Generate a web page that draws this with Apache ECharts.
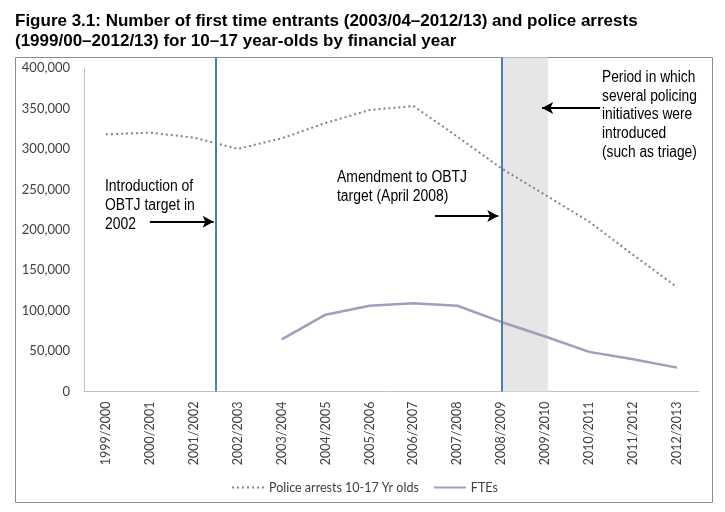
<!DOCTYPE html>
<html><head><meta charset="utf-8">
<script src="https://cdn.jsdelivr.net/npm/echarts@6/dist/echarts.min.js"></script>
<style>html,body{margin:0;padding:0;background:#fff}#c{width:725px;height:512px}</style>
</head><body><div id="c"></div>
<script>
const categories = ['1999/2000','2000/2001','2001/2002','2002/2003','2003/2004','2004/2005','2005/2006','2006/2007','2007/2008','2008/2009','2009/2010','2010/2011','2011/2012','2012/2013'];
const policeArrests = [318000,320000,314000,300000,313000,332000,348000,353000,315000,276000,243000,210000,169000,129000];
const ftes = [null,null,null,null,64500,95000,106000,109000,106000,86000,68000,49000,40000,29500];
const yTicks = {min:0, max:400000, interval:50000};
const seriesNames = ['Police arrests 10-17 Yr olds','FTEs'];
const titleText = 'Figure 3.1: Number of first time entrants (2003/04\u20132012/13) and police arrests\n(1999/00\u20132012/13) for 10\u201317 year-olds by financial year';
const notes = ['Introduction of\nOBTJ target in\n2002','Amendment to OBTJ\ntarget (April 2008)','Period in which\nseveral policing\ninitiatives were\nintroduced\n(such as triage)'];
const eventLines = [2.5, 9.02];
const initiativeBand = [9.02, 10.06];

const sans = "'Liberation Sans',Arial,sans-serif";
const chart = echarts.init(document.getElementById('c'));
chart.setOption({
  animation:false,
  title:{text:titleText,left:10,top:6,textStyle:{fontFamily:sans,fontWeight:'bold',fontSize:17,lineHeight:20,color:'#000'}},
  grid:[
    {left:84,right:26,top:68,bottom:120.5,containLabel:false},
    {left:84,right:26,top:57.5,bottom:120.5,containLabel:false}
  ],
  legend:{top:476,left:226,itemWidth:32,itemHeight:12,itemGap:14,
    itemStyle:{opacity:0},
    textStyle:{fontFamily:'Lato',fontSize:12.5,color:'#404040'},
    data:seriesNames},
  xAxis:[
    {type:'category',data:categories,boundaryGap:true,gridIndex:0,
     axisLine:{onZero:false,lineStyle:{color:'#bfbfbf'}},axisTick:{show:false},
     axisLabel:{rotate:90,interval:0,fontFamily:'Lato',fontSize:12.5,color:'#404040',margin:10}},
    {type:'value',min:-0.5,max:13.5,show:false,gridIndex:0},
    {type:'value',min:-0.5,max:13.5,show:false,gridIndex:1}
  ],
  yAxis:[
    {type:'value',min:yTicks.min,max:yTicks.max,interval:yTicks.interval,gridIndex:0,
    axisLine:{show:true,onZero:false,lineStyle:{color:'#bfbfbf'}},axisTick:{show:false},splitLine:{show:false},
    axisLabel:{fontFamily:'Lato',fontSize:13,color:'#404040',margin:14,formatter:v=>v.toLocaleString('en-US')}},
    {type:'value',min:0,max:1,show:false,gridIndex:1}
  ],
  graphic:[
    {type:'rect',shape:{x:15.5,y:57.5,width:697,height:445},style:{fill:null,stroke:'#8c8c8c',lineWidth:1},z:-10},
    {type:'text',left:105,top:177,scaleX:0.87,style:{text:notes[0],font:"16px "+sans,lineHeight:19,fill:'#000'}},
    {type:'text',left:337,top:168,scaleX:0.87,style:{text:notes[1],font:"16px "+sans,lineHeight:19,fill:'#000'}},
    {type:'text',left:602,top:68,scaleX:0.86,style:{text:notes[2],font:"16px "+sans,lineHeight:18.8,fill:'#000'}}
  ],
  series:[
    {type:'line',xAxisIndex:2,yAxisIndex:1,data:[],silent:true,z:1,
     markArea:{silent:true,itemStyle:{color:'#e6e6e6'},data:[[{coord:[initiativeBand[0],0]},{coord:[initiativeBand[1],1]}]]}},
    {name:seriesNames[0],type:'line',data:policeArrests,symbol:'none',z:3,
     lineStyle:{color:'#7e7f9e',width:2,type:[2,3]},itemStyle:{color:'#7e7f9e'}},
    {name:seriesNames[1],type:'line',data:ftes,symbol:'none',z:3,
     lineStyle:{color:'#a29dc0',width:2.5},itemStyle:{color:'#a29dc0'}},
    {type:'line',xAxisIndex:2,yAxisIndex:1,data:[],silent:true,z:5,
     markLine:{silent:true,symbol:['none','none'],label:{show:false},
       lineStyle:{color:'#4a7ebb',width:2,type:'solid'},
       data:eventLines.map(x=>[{coord:[x,0]},{coord:[x,1]}])}},
    {type:'line',xAxisIndex:1,yAxisIndex:0,data:[],silent:true,z:6,
     markLine:{silent:true,symbol:['none','arrow'],symbolSize:[9,11],label:{show:false},
       lineStyle:{color:'#000',width:2.2,type:'solid'},
       data:[[{coord:[1.0,210000]},{coord:[2.45,210000]}],
             [{coord:[7.49,217000]},{coord:[8.93,217000]}],
             [{coord:[11.25,350500]},{coord:[9.93,350500]}]]}}
  ]
});
</script></body></html>
